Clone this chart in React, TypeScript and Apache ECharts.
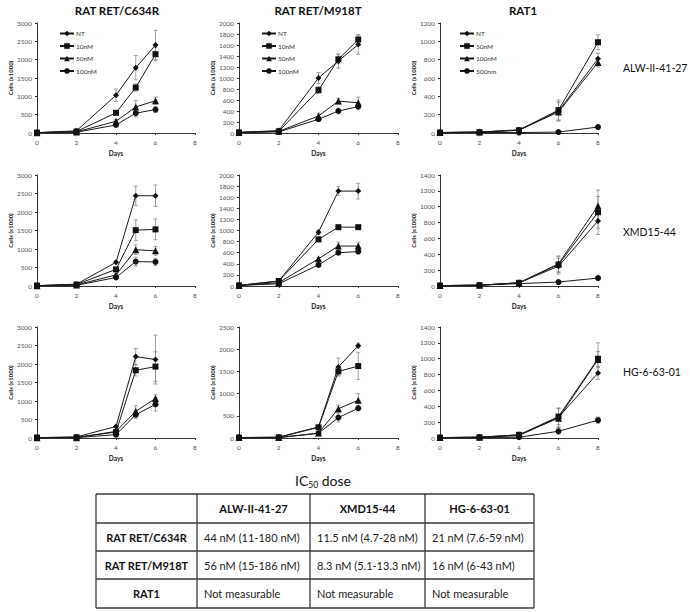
import React, { useEffect, useRef } from "react";
import * as echarts from "echarts";

// ---------- data ----------
const daysRET = [0, 2, 4, 5, 6];
const daysRAT1 = [0, 2, 4, 6, 8];
const doseRET = ["NT", "10nM", "50nM", "100nM"];
const doseRAT1 = ["NT", "50nM", "100nM", "500nm"];
const colTitles = ["RAT RET/C634R", "RAT RET/M918T", "RAT1"];
const rowTitles = ["ALW-II-41-27", "XMD15-44", "HG-6-63-01"];
const yMax = [[3000, 2000, 1200], [3000, 2000, 1400], [3000, 2500, 1400]];
const yStep = [[500, 200, 200], [500, 200, 200], [500, 500, 200]];

// ALW-II-41-27
const alwC634R = [
  [10, 60, 1030, 1780, 2400],
  [10, 40, 550, 1240, 2150],
  [10, 30, 320, 710, 880],
  [10, 20, 220, 540, 640],
];
const alwC634RErr = [
  [0, 15, 170, 330, 400],
  [0, 10, 40, 100, 180],
  [0, 10, 40, 180, 100],
  [0, 10, 30, 100, 80],
];
const alwM918T = [
  [10, 45, 1000, 1310, 1610],
  [10, 30, 780, 1340, 1700],
  [10, 30, 310, 580, 550],
  [10, 20, 250, 400, 480],
];
const alwM918TErr = [
  [0, 10, 100, 130, 180],
  [0, 10, 60, 80, 80],
  [0, 5, 50, 50, 100],
  [0, 5, 30, 50, 40],
];
const alwRAT1 = [
  [5, 10, 35, 240, 810],
  [5, 10, 30, 250, 990],
  [5, 10, 30, 230, 770],
  [5, 5, 5, 10, 65],
];
const alwRAT1Err = [
  [0, 5, 10, 100, 60],
  [0, 5, 10, 110, 80],
  [0, 5, 10, 100, 50],
  [0, 0, 0, 0, 5],
];

// XMD15-44
const xmdC634R = [
  [10, 50, 640, 2440, 2440],
  [10, 40, 450, 1510, 1530],
  [10, 30, 300, 980, 950],
  [10, 20, 230, 660, 650],
];
const xmdC634RErr = [
  [0, 10, 40, 260, 290],
  [0, 10, 40, 280, 280],
  [0, 10, 30, 130, 120],
  [0, 5, 30, 120, 100],
];
const xmdM918T = [
  [10, 90, 970, 1710, 1710],
  [10, 90, 840, 1060, 1060],
  [10, 60, 490, 720, 720],
  [10, 40, 380, 600, 620],
];
const xmdM918TErr = [
  [0, 10, 40, 80, 140],
  [0, 10, 40, 20, 20],
  [0, 10, 20, 70, 70],
  [0, 5, 20, 20, 20],
];
const xmdRAT1 = [
  [5, 10, 40, 250, 820],
  [5, 10, 40, 270, 930],
  [5, 10, 40, 280, 1010],
  [5, 10, 30, 50, 100],
];
const xmdRAT1Err = [
  [0, 5, 10, 100, 170],
  [0, 5, 10, 100, 200],
  [0, 5, 10, 100, 200],
  [0, 0, 5, 5, 10],
];

// HG-6-63-01
const hgC634R = [
  [10, 30, 310, 2200, 2120],
  [10, 20, 160, 1830, 1930],
  [10, 10, 180, 720, 1070],
  [10, 10, 90, 630, 910],
];
const hgC634RErr = [
  [0, 10, 30, 220, 660],
  [0, 10, 30, 150, 400],
  [0, 5, 20, 150, 100],
  [0, 5, 20, 100, 180],
];
const hgM918T = [
  [10, 20, 250, 1600, 2080],
  [10, 15, 240, 1500, 1620],
  [10, 10, 110, 660, 850],
  [10, 10, 105, 460, 670],
];
const hgM918TErr = [
  [0, 5, 30, 200, 60],
  [0, 5, 30, 100, 300],
  [0, 5, 20, 80, 150],
  [0, 5, 20, 100, 60],
];
const hgRAT1 = [
  [5, 10, 30, 260, 820],
  [5, 10, 40, 270, 1000],
  [5, 10, 40, 250, 990],
  [5, 5, 10, 85, 225],
];
const hgRAT1Err = [
  [0, 5, 10, 120, 80],
  [0, 5, 10, 100, 200],
  [0, 5, 10, 120, 100],
  [0, 0, 5, 40, 40],
];

// IC50 table
const tableHeader = ["ALW-II-41-27", "XMD15-44", "HG-6-63-01"];
const tableRowLabels = ["RAT RET/C634R", "RAT RET/M918T", "RAT1"];
const tableC634R = ["44 nM (11-180 nM)", "11.5 nM (4.7-28 nM)", "21 nM (7.6-59 nM)"];
const tableM918T = ["56 nM (15-186 nM)", "8.3 nM (5.1-13.3 nM)", "16 nM (6-43 nM)"];
const tableRAT1 = ["Not measurable", "Not measurable", "Not measurable"];

// ---------- layout / style ----------
const FONT = "Lato";
const colLeft = [37, 239, 440];
const colWidth = [158, 159, 158];
const rowTop = [23, 175, 327];
const rowHeight = [110, 111, 111];
const symbolsRET = ["diamond", "rect", "triangle", "circle"];
const symbolsRAT1 = ["diamond", "rect", "triangle", "circle"];
const symbolSizes = [6, 6, 7, 6];

const panels = [
  [alwC634R, alwM918T, alwRAT1],
  [xmdC634R, xmdM918T, xmdRAT1],
  [hgC634R, hgM918T, hgRAT1],
];
const panelErrs = [
  [alwC634RErr, alwM918TErr, alwRAT1Err],
  [xmdC634RErr, xmdM918TErr, xmdRAT1Err],
  [hgC634RErr, hgM918TErr, hgRAT1Err],
];

function buildOption() {
  const grid: any[] = [];
  const xAxis: any[] = [];
  const yAxis: any[] = [];
  const series: any[] = [];
  const legend: any[] = [];
  const graphic: any[] = [];

  for (let r = 0; r < 3; r++) {
    for (let c = 0; c < 3; c++) {
      const i = r * 3 + c;
      const isRAT1 = c === 2;
      const days = isRAT1 ? daysRAT1 : daysRET;
      const doses = isRAT1 ? doseRAT1 : doseRET;
      const syms = isRAT1 ? symbolsRAT1 : symbolsRET;
      grid.push({ left: colLeft[c], top: rowTop[r], width: colWidth[c], height: rowHeight[r] });
      xAxis.push({
        gridIndex: i,
        type: "value",
        min: 0,
        max: 8,
        interval: 2,
        name: "Days",
        nameLocation: "middle",
        nameGap: 17,
        nameTextStyle: { fontSize: 6.5, fontWeight: "bold", color: "#222", fontFamily: FONT },
        axisLine: { show: true, onZero: false, lineStyle: { color: "#333", width: 1 } },
        axisTick: { show: true, length: 2, lineStyle: { color: "#333" } },
        axisLabel: { fontSize: 6.5, color: "#555", margin: 6, fontFamily: FONT, formatter: (v: number) => String(v) },
        splitLine: { show: false },
      });
      yAxis.push({
        gridIndex: i,
        type: "value",
        min: 0,
        max: yMax[r][c],
        interval: yStep[r][c],
        name: "Cells (x1000)",
        nameLocation: "middle",
        nameRotate: 90,
        nameGap: 22,
        nameTextStyle: { fontSize: 6, fontWeight: "bold", color: "#222", fontFamily: FONT },
        axisLine: { show: true, lineStyle: { color: "#333", width: 1 } },
        axisTick: { show: true, length: 2, lineStyle: { color: "#333" } },
        axisLabel: { fontSize: 6.5, color: "#555", margin: 5, fontFamily: FONT, formatter: (v: number) => String(v) },
        splitLine: { show: false },
      });

      const vals = panels[r][c];
      const errs = panelErrs[r][c];
      for (let k = 0; k < 4; k++) {
        const sname = isRAT1 ? "RAT1 " + doses[k] : doses[k];
        series.push({
          type: "line",
          name: sname,
          xAxisIndex: i,
          yAxisIndex: i,
          data: days.map((d, j) => [d, vals[k][j]]),
          symbol: syms[k],
          symbolSize: symbolSizes[k],
          showAllSymbol: true,
          lineStyle: { color: "#1a1a1a", width: 1 },
          itemStyle: { color: "#111" },
          z: 3,
          silent: true,
        });
        const errData = days
          .map((d, j) => [d, vals[k][j] - errs[k][j], vals[k][j] + errs[k][j], errs[k][j]])
          .filter((e) => e[3] > 0);
        series.push({
          type: "custom",
          name: sname + " error",
          xAxisIndex: i,
          yAxisIndex: i,
          data: errData,
          z: 2,
          silent: true,
          renderItem: (params: any, api: any) => {
            const x = api.value(0);
            const lo = api.coord([x, Math.max(0, api.value(1))]);
            const hi = api.coord([x, api.value(2)]);
            const st = { stroke: "#8c8c8c", lineWidth: 0.8 };
            return {
              type: "group",
              children: [
                { type: "line", shape: { x1: lo[0], y1: lo[1], x2: hi[0], y2: hi[1] }, style: st },
                { type: "line", shape: { x1: lo[0] - 2, y1: lo[1], x2: lo[0] + 2, y2: lo[1] }, style: st },
                { type: "line", shape: { x1: hi[0] - 2, y1: hi[1], x2: hi[0] + 2, y2: hi[1] }, style: st },
              ],
            };
          },
        });
      }

      if (r === 0) {
        legend.push({
          data: doses.map((d) => (isRAT1 ? "RAT1 " + d : d)),
          formatter: (n: string) => n.replace("RAT1 ", ""),
          orient: "vertical",
          left: colLeft[c] + (c === 2 ? 14 : 17),
          top: 25,
          itemWidth: 14,
          itemHeight: 7,
          itemGap: 5.5,
          selectedMode: false,
          textStyle: { fontSize: 6.5, color: "#333", fontFamily: FONT, padding: [0, 0, 0, -3] },
        });
      }
    }
  }

  // column titles
  const colCenters = [117, 318, 523];
  colTitles.forEach((t, c) => {
    graphic.push({
      type: "text",
      x: colCenters[c],
      y: 10,
      style: { text: t, align: "center", verticalAlign: "middle", fontSize: 11.5, fontWeight: "bold", fontFamily: FONT, fill: "#111" },
    });
  });
  // row titles
  const rowCenters = [68, 232, 372];
  rowTitles.forEach((t, r) => {
    graphic.push({
      type: "text",
      x: 623,
      y: rowCenters[r],
      style: { text: t, align: "left", verticalAlign: "middle", fontSize: 10.5, fontWeight: "normal", fontFamily: FONT, fill: "#111" },
    });
  });

  // IC50 title
  graphic.push({
    type: "text",
    x: 323,
    y: 480,
    style: {
      text: "{a|IC}{b|50}{a| dose}",
      align: "center",
      verticalAlign: "middle",
      fill: "#111",
      rich: {
        a: { fontSize: 14, fontFamily: FONT, lineHeight: 18, fill: "#111" },
        b: { fontSize: 8.5, fontFamily: FONT, lineHeight: 9, verticalAlign: "bottom", fill: "#111" },
      },
    },
  });

  // table
  const tx = [96, 197, 310, 425, 534];
  const ty = [494, 523, 551, 579, 608];
  const lineSt = { stroke: "#3a3a3a", lineWidth: 1.3 };
  tx.forEach((x) => graphic.push({ type: "line", shape: { x1: x, y1: ty[0], x2: x, y2: ty[4] }, style: lineSt }));
  ty.forEach((y) => graphic.push({ type: "line", shape: { x1: tx[0], y1: y, x2: tx[4], y2: y }, style: lineSt }));
  tableHeader.forEach((h, c) => {
    graphic.push({
      type: "text",
      x: (tx[c + 1] + tx[c + 2]) / 2,
      y: (ty[0] + ty[1]) / 2,
      style: { text: h, align: "center", verticalAlign: "middle", fontSize: 11, fontWeight: "bold", fontFamily: FONT, fill: "#111" },
    });
  });
  const tableRows = [tableC634R, tableM918T, tableRAT1];
  tableRowLabels.forEach((lab, r) => {
    const cy = (ty[r + 1] + ty[r + 2]) / 2;
    graphic.push({
      type: "text",
      x: (tx[0] + tx[1]) / 2,
      y: cy,
      style: { text: lab, align: "center", verticalAlign: "middle", fontSize: 11, fontWeight: "bold", fontFamily: FONT, fill: "#111" },
    });
    tableRows[r].forEach((v, c) => {
      graphic.push({
        type: "text",
        x: tx[c + 1] + 7,
        y: cy,
        style: { text: v, align: "left", verticalAlign: "middle", fontSize: 11, fontFamily: FONT, fill: "#222" },
      });
    });
  });

  return {
    animation: false,
    backgroundColor: "#ffffff",
    textStyle: { fontFamily: FONT },
    grid,
    xAxis,
    yAxis,
    legend,
    series,
    graphic,
  };
}

export default function App() {
  const ref = useRef<HTMLDivElement>(null);
  useEffect(() => {
    document.body.style.margin = "0";
    if (!ref.current) return;
    const chart = echarts.init(ref.current, undefined, { renderer: "svg" });
    chart.setOption(buildOption() as any);
    return () => chart.dispose();
  }, []);
  return <div ref={ref} style={{ width: 690, height: 612 }} />;
}
